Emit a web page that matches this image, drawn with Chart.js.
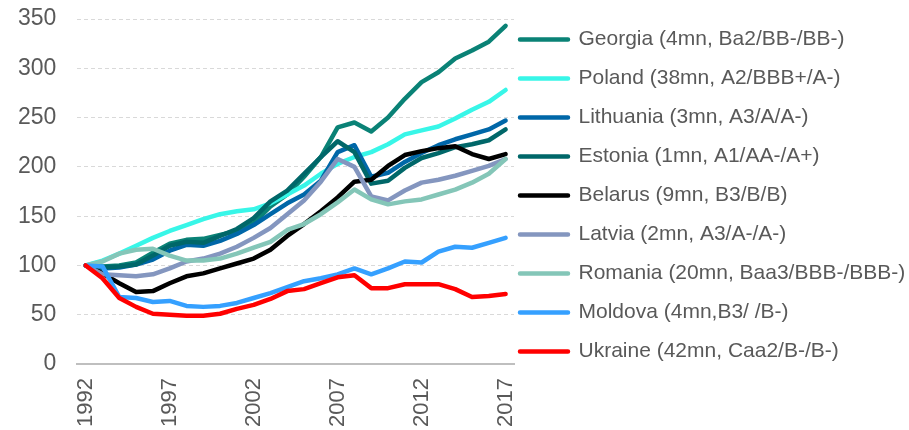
<!DOCTYPE html>
<html>
<head>
<meta charset="utf-8">
<script src="https://cdn.jsdelivr.net/npm/chart.js@4"></script>
<style>
  html, body { margin: 0; padding: 0; background: #ffffff; }
  #wrap { width: 909px; height: 430px; position: relative; }
</style>
</head>
<body>
<div id="wrap"><canvas id="c" width="909" height="430"></canvas></div>
<script>
const years = ['1992','1993','1994','1995','1996','1997','1998','1999','2000','2001','2002','2003','2004',
               '2005','2006','2007','2008','2009','2010','2011','2012','2013','2014','2015','2016','2017'];
const tickYears = ['1992','1997','2002','2007','2012','2017'];
const yTicks = [0, 50, 100, 150, 200, 250, 300, 350];

const seriesNames = [
  'Georgia (4mn, Ba2/BB-/BB-)',
  'Poland (38mn, A2/BBB+/A-)',
  'Lithuania (3mn, A3/A/A-)',
  'Estonia (1mn, A1/AA-/A+)',
  'Belarus (9mn, B3/B/B)',
  'Latvia (2mn, A3/A-/A-)',
  'Romania (20mn, Baa3/BBB-/BBB-)',
  'Moldova (4mn,B3/ /B-)',
  'Ukraine (42mn, Caa2/B-/B-)'
];

const georgia   = [100, 99, 100, 103, 113, 122, 126, 127, 131, 135, 143, 160, 172, 190, 210, 240, 245, 236, 250, 269, 286, 296, 310, 318, 327, 343];
const poland    = [100, 105, 112, 120, 128, 135, 141, 147, 152, 155, 157, 163, 172, 181, 193, 203, 210, 215, 223, 233, 237, 241, 249, 258, 266, 278];
const lithuania = [100, 97, 98, 101, 106, 115, 121, 120, 125, 132, 141, 152, 163, 172, 186, 215, 222, 190, 194, 205, 214, 222, 228, 233, 238, 247];
const estonia   = [100, 98, 99, 101, 110, 120, 124, 123, 130, 137, 148, 165, 176, 193, 210, 226, 215, 183, 186, 199, 209, 214, 220, 223, 227, 238];
const belarus   = [100, 92, 82, 73, 74, 82, 89, 92, 97, 102, 107, 116, 130, 142, 155, 169, 185, 187, 201, 212, 216, 219, 221, 213, 208, 213];
const latvia    = [100, 91, 90, 89, 91, 97, 104, 107, 112, 119, 128, 138, 152, 166, 185, 208, 200, 170, 166, 176, 184, 187, 191, 196, 201, 208];
const romania   = [100, 104, 112, 116, 117, 110, 105, 105, 107, 112, 118, 124, 136, 142, 152, 164, 177, 167, 162, 165, 167, 172, 177, 184, 193, 208];
const moldova   = [100, 99, 68, 67, 63, 64, 59, 58, 59, 62, 67, 72, 78, 84, 87, 91, 97, 91, 97, 104, 103, 114, 119, 118, 123, 128];
const ukraine   = [100, 87, 67, 58, 51, 50, 49, 49, 51, 56, 60, 66, 74, 76, 82, 88, 90, 77, 77, 81, 81, 81, 76, 68, 69, 71];

const seriesValues = [georgia, poland, lithuania, estonia, belarus, latvia, romania, moldova, ukraine];
const seriesColors = ['#0A8276', '#38F6E8', '#0067A8', '#006769', '#000000', '#8496BF', '#84C6B8', '#35A0FF', '#FF0000'];

const FONT = "'Liberation Sans', Arial, sans-serif";
const TEXT = '#595959';

const datasets = seriesNames.map((name, i) => ({
  label: name,
  data: seriesValues[i],
  borderColor: seriesColors[i],
  backgroundColor: seriesColors[i],
  borderWidth: 4.5,
  borderCapStyle: 'round',
  borderJoinStyle: 'round',
  pointRadius: 0,
  pointHoverRadius: 0,
  tension: 0,
  fill: false,
  order: seriesNames.length - i
}));

const legendPlacer = {
  id: 'legendPlacer',
  beforeDraw(chart) {
    const lg = chart.legend;
    if (!lg) return;
    lg.left = 502;
    lg.right = 909;
    lg.width = lg.right - lg.left;
    const h = lg.height;
    lg.top = 11;
    lg.bottom = lg.top + h;
  }
};

new Chart(document.getElementById('c'), {
  type: 'line',
  data: { labels: years, datasets: datasets },
  plugins: [legendPlacer],
  options: {
    responsive: false,
    animation: false,
    devicePixelRatio: 1,
    layout: { padding: { left: 17, top: 19, right: 0, bottom: -11 } },
    plugins: {
      tooltip: { enabled: false },
      legend: {
        position: 'right',
        align: 'start',
        maxWidth: 395,
        labels: {
          font: { family: FONT, size: 21 },
          color: TEXT,
          boxWidth: 48,
          boxHeight: 0,
          padding: 18,
          sort: (a, b) => a.datasetIndex - b.datasetIndex
        }
      }
    },
    scales: {
      x: {
        type: 'category',
        offset: true,
        grid: { display: false, drawTicks: false },
        border: { display: true, color: '#bfbfbf', width: 2 },
        afterFit: (scale) => { scale.paddingLeft = 0; scale.paddingRight = 0; },
        ticks: {
          autoSkip: false,
          maxRotation: 90,
          minRotation: 90,
          padding: 14,
          color: TEXT,
          font: { family: FONT, size: 22 },
          callback: function (value) {
            const lab = this.getLabelForValue(value);
            return tickYears.includes(lab) ? lab : null;
          }
        }
      },
      y: {
        min: 0,
        max: 350,
        afterBuildTicks: (scale) => { scale.ticks = yTicks.map(v => ({ value: v })); },
        afterFit: (scale) => { scale.width = 60.3; scale.paddingTop = 0; scale.paddingBottom = 0; },
        grid: { color: '#d9d9d9', lineWidth: 1, drawTicks: false },
        border: { display: false, dash: [4, 3] },
        ticks: {
          padding: 21,
          color: TEXT,
          font: { family: FONT, size: 23 }
        }
      }
    }
  }
});
</script>
</body>
</html>
